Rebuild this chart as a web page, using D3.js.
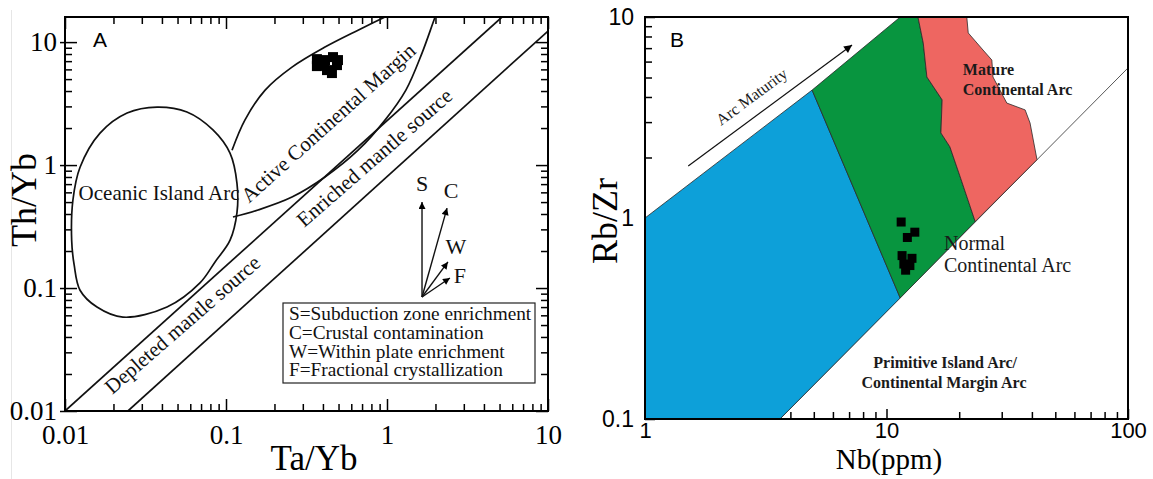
<!DOCTYPE html>
<html>
<head>
<meta charset="utf-8">
<script src="https://cdn.jsdelivr.net/npm/d3@7"></script>
<style>
body { margin: 0; background: #fff; }
svg { display: block; }
</style>
</head>
<body>
<svg id="chart" width="1153" height="479"></svg>
<script>
// ---------- panel A : Th/Yb vs Ta/Yb ----------
var aXTickValues = [0.01, 0.1, 1, 10];
var aXTickLabels = ["0.01", "0.1", "1", "10"];
var aYTickValues = [0.01, 0.1, 1, 10];
var aYTickLabels = ["0.01", "0.1", "1", "10"];

var aSamples = [[0.367, 7.27], [0.367, 6.38], [0.412, 7.14], [0.462, 7.55], [0.496, 7.14],
                [0.489, 6.5], [0.424, 5.92], [0.455, 5.6], [0.406, 6.5]];

var oceanicIslandArc = [[0.0110, 0.245], [0.0112, 0.52], [0.0124, 0.96], [0.0165, 1.82], [0.0243, 2.65],
                        [0.0373, 2.96], [0.0572, 2.70], [0.0830, 1.93], [0.1059, 1.25], [0.117, 0.71],
                        [0.117, 0.41], [0.106, 0.245], [0.0855, 0.163], [0.0689, 0.11], [0.0430, 0.070],
                        [0.0229, 0.058], [0.0158, 0.070], [0.0124, 0.096], [0.0114, 0.154]];

var acmUpper = [[0.109, 1.32], [0.131, 2.32], [0.175, 4.07], [0.257, 6.26], [0.412, 9.11],
                [0.661, 12.5], [0.972, 16.0], [1.2, 18.2]];
var acmLower = [[0.1105, 0.378], [0.158, 0.431], [0.257, 0.549], [0.412, 0.799], [0.661, 1.32],
                [0.972, 2.32], [1.31, 4.07], [1.65, 8.14], [1.99, 16.0], [2.13, 20]];

var mantleUpper = [[0.01, 0.01], [5.18, 16]];
var mantleLower = [[0.0246, 0.01], [10, 12.3]];

var vectorOrigin = [1.65, 0.0845];
var vectorNames = ["S", "C", "W", "F"];
var vectorTips = [[1.65, 0.50], [2.36, 0.447], [2.39, 0.163], [2.46, 0.1206]];

var legendLines = ["S=Subduction zone enrichment", "C=Crustal contamination",
                   "W=Within plate enrichment", "F=Fractional crystallization"];

var aFieldNames = ["Oceanic Island Arc", "Active Continental Margin", "Enriched mantle source", "Depleted mantle source"];
var aFieldAnchors = [[0.0384, 0.52], [0.462, 2.0], [0.892, 1.04], [0.0573, 0.0456]];

// ---------- panel B : Rb/Zr vs Nb ----------
var bXTickValues = [1, 10, 100];
var bXTickLabels = ["1", "10", "100"];
var bYTickValues = [0.1, 1, 10];
var bYTickLabels = ["0.1", "1", "10"];

var bSamples = [[11.5, 0.955], [12.2, 0.80], [13.1, 0.85], [11.6, 0.65], [12.75, 0.63],
                [11.8, 0.59], [12.5, 0.58], [12.0, 0.55]];

var primitiveField = [[1, 1], [4.92, 4.33], [11.4, 0.40], [3.62, 0.1], [1, 0.1]];
var normalTop = [[4.92, 4.33], [11.4, 10]];
var normalMatureBorder = [[13.5, 10], [14.2, 7.42], [14.7, 5.03], [17.0, 3.87], [16.8, 2.65],
                          [18.3, 2.26], [20.2, 1.60], [23.3, 0.96]];
var normalBottom = [[11.4, 0.40]];
var matureOuter = [[21.5, 10], [21.8, 8.33], [25.1, 6.85], [27.3, 6.11], [27.6, 5.03],
                   [31.5, 3.73], [37.5, 3.45], [39.3, 2.97], [42, 1.95]];
var arrayLine = [[3.62, 0.1], [100, 5.58]];
var maturityArrow = [[1.51, 1.815], [7.2, 7.26]];

var bFieldNames = ["Arc Maturity", "Mature", "Continental Arc", "Normal", "Continental Arc",
                   "Primitive Island Arc/", "Continental Margin Arc"];
var bFieldAnchors = [[2.85, 3.82], [20.7, 5.14], [20.7, 4.09], [17.3, 0.693], [17.3, 0.539],
                     [17.5, 0.179], [17.3, 0.1426]];

var serif = "'Liberation Serif', 'Times New Roman', serif";
var sans = "'Liberation Sans', Arial, sans-serif";

var svg = d3.select("#chart");

var defs = svg.append("defs");
defs.append("marker").attr("id", "headA")
    .attr("viewBox", "0 0 10 10").attr("refX", 10).attr("refY", 5)
    .attr("markerWidth", 9).attr("markerHeight", 7).attr("markerUnits", "userSpaceOnUse")
    .attr("orient", "auto")
    .append("path").attr("d", "M0,0L10,5L0,10z").attr("fill", "#000");
defs.append("marker").attr("id", "headB")
    .attr("viewBox", "0 0 10 10").attr("refX", 10).attr("refY", 5)
    .attr("markerWidth", 11).attr("markerHeight", 8).attr("markerUnits", "userSpaceOnUse")
    .attr("orient", "auto")
    .append("path").attr("d", "M0,0L10,5L0,10z").attr("fill", "#000");

// faint scan edge at the very left
svg.append("line").attr("x1", 11.5).attr("x2", 11.5).attr("y1", 10).attr("y2", 479)
    .attr("stroke", "#e6e6e6");

function isDecade(d) {
    var l = Math.log10(d);
    return Math.abs(l - Math.round(l)) < 1e-9;
}

function addAxis(g, axis, tr, family, size) {
    var a = g.append("g").attr("transform", tr).call(axis);
    a.select(".domain").remove();
    a.selectAll("line").attr("stroke", "#000").attr("stroke-width", 1.5);
    a.selectAll("text").attr("font-family", family).attr("font-size", size).attr("fill", "#000");
    return a;
}

drawPanelA();
drawPanelB();

function drawPanelA() {
    var m = {left: 65, right: 548, top: 17, bottom: 411};
    var x = d3.scaleLog().domain([0.01, 10]).range([m.left, m.right]);
    var y = d3.scaleLog().domain([0.01, 16]).range([m.bottom, m.top]);
    var g = svg.append("g");

    defs.append("clipPath").attr("id", "clipA").append("rect")
        .attr("x", m.left).attr("y", m.top).attr("width", m.right - m.left).attr("height", m.bottom - m.top);

    var minorX = x.ticks().filter(d => !isDecade(d));
    var minorY = y.ticks().filter(d => !isDecade(d));

    // bottom and top
    addAxis(g, d3.axisBottom(x).tickValues(aXTickValues).tickSizeInner(-12).tickSizeOuter(0)
        .tickPadding(14).tickFormat((d, i) => aXTickLabels[i]), "translate(0," + m.bottom + ")", serif, 27);
    addAxis(g, d3.axisBottom(x).tickValues(minorX).tickSize(-7).tickFormat(""), "translate(0," + m.bottom + ")", serif, 27);
    addAxis(g, d3.axisTop(x).tickValues(aXTickValues).tickSize(-12).tickFormat(""), "translate(0," + m.top + ")", serif, 27);
    addAxis(g, d3.axisTop(x).tickValues(minorX).tickSize(-7).tickFormat(""), "translate(0," + m.top + ")", serif, 27);
    // left and right
    addAxis(g, d3.axisLeft(y).tickValues(aYTickValues).tickSizeInner(-12).tickSizeOuter(0)
        .tickPadding(8).tickFormat((d, i) => aYTickLabels[i]), "translate(" + m.left + ",0)", serif, 27);
    addAxis(g, d3.axisLeft(y).tickValues(aYTickValues).tickSize(5).tickFormat(""), "translate(" + m.left + ",0)", serif, 27);
    addAxis(g, d3.axisLeft(y).tickValues(minorY).tickSize(-7).tickFormat(""), "translate(" + m.left + ",0)", serif, 27);
    addAxis(g, d3.axisRight(y).tickValues(aYTickValues).tickSize(-12).tickFormat(""), "translate(" + m.right + ",0)", serif, 27);
    addAxis(g, d3.axisRight(y).tickValues(minorY).tickSize(-7).tickFormat(""), "translate(" + m.right + ",0)", serif, 27);

    var plot = g.append("g").attr("clip-path", "url(#clipA)");
    var line = d3.line().x(d => x(d[0])).y(d => y(d[1]));

    plot.append("path").datum(oceanicIslandArc)
        .attr("d", line.curve(d3.curveCatmullRomClosed.alpha(0.5)))
        .attr("fill", "none").attr("stroke", "#111").attr("stroke-width", 1.7);
    line.curve(d3.curveCatmullRom.alpha(0.5));
    [acmUpper, acmLower].forEach(function (c) {
        plot.append("path").datum(c).attr("d", line)
            .attr("fill", "none").attr("stroke", "#111").attr("stroke-width", 1.7);
    });
    line.curve(d3.curveLinear);
    [mantleUpper, mantleLower].forEach(function (c) {
        plot.append("path").datum(c).attr("d", line)
            .attr("fill", "none").attr("stroke", "#111").attr("stroke-width", 1.7);
    });

    // field names
    var angles = [0, -42, -41, -41];
    g.selectAll(".fieldA").data(aFieldNames).enter().append("text")
        .attr("class", "fieldA")
        .attr("transform", (d, i) => "translate(" + x(aFieldAnchors[i][0]) + "," + y(aFieldAnchors[i][1]) + ") rotate(" + angles[i] + ")")
        .attr("text-anchor", "middle")
        .attr("font-family", serif).attr("font-size", 21).attr("fill", "#111")
        .text(d => d);

    // enrichment vectors
    var ox = x(vectorOrigin[0]), oy = y(vectorOrigin[1]);
    var offs = [[0, -11], [4, -10], [8, -8], [10, 5]];
    vectorTips.forEach(function (t, i) {
        g.append("line").attr("x1", ox).attr("y1", oy).attr("x2", x(t[0])).attr("y2", y(t[1]))
            .attr("stroke", "#111").attr("stroke-width", 1.4).attr("marker-end", "url(#headA)");
        g.append("text").attr("x", x(t[0]) + offs[i][0]).attr("y", y(t[1]) + offs[i][1])
            .attr("text-anchor", "middle").attr("font-family", serif).attr("font-size", 22)
            .attr("fill", "#111").text(vectorNames[i]);
    });

    // legend box
    var lg = g.append("g").attr("transform", "translate(283,303)");
    lg.append("rect").attr("width", 252).attr("height", 80)
        .attr("fill", "#fff").attr("stroke", "#222").attr("stroke-width", 1.2);
    lg.selectAll("text").data(legendLines).enter().append("text")
        .attr("x", 6).attr("y", (d, i) => 17 + i * 18.8)
        .attr("font-family", serif).attr("font-size", 19.3).attr("fill", "#111")
        .text(d => d);

    // samples
    g.selectAll(".sa").data(aSamples).enter().append("rect")
        .attr("x", d => x(d[0]) - 5).attr("y", d => y(d[1]) - 5)
        .attr("width", 10).attr("height", 10).attr("fill", "#000");

    g.append("rect").attr("x", m.left).attr("y", m.top)
        .attr("width", m.right - m.left).attr("height", m.bottom - m.top)
        .attr("fill", "none").attr("stroke", "#000").attr("stroke-width", 2);

    g.append("text").attr("x", 93).attr("y", 47).attr("font-family", sans).attr("font-size", 21).text("A");

    g.append("text").attr("transform", "translate(36,200) rotate(-90)").attr("text-anchor", "middle")
        .attr("font-family", serif).attr("font-size", 36).text("Th/Yb");
    g.append("text").attr("x", 314).attr("y", 470).attr("text-anchor", "middle")
        .attr("font-family", serif).attr("font-size", 35).text("Ta/Yb");
}

function drawPanelB() {
    var m = {left: 645, right: 1128, top: 17, bottom: 419};
    var x = d3.scaleLog().domain([1, 100]).range([m.left, m.right]);
    var y = d3.scaleLog().domain([0.1, 10]).range([m.bottom, m.top]);
    var g = svg.append("g");

    defs.append("clipPath").attr("id", "clipB").append("rect")
        .attr("x", m.left).attr("y", m.top).attr("width", m.right - m.left).attr("height", m.bottom - m.top);

    var minorX = x.ticks().filter(d => !isDecade(d));
    var minorY = y.ticks().filter(d => !isDecade(d));

    addAxis(g, d3.axisBottom(x).tickValues(bXTickValues).tickSizeInner(-10).tickSizeOuter(0)
        .tickPadding(3).tickFormat((d, i) => bXTickLabels[i]), "translate(0," + m.bottom + ")", sans, 22);
    addAxis(g, d3.axisBottom(x).tickValues(minorX).tickSize(-7).tickFormat(""), "translate(0," + m.bottom + ")", sans, 22);
    addAxis(g, d3.axisLeft(y).tickValues(bYTickValues).tickSizeInner(-10).tickSizeOuter(0)
        .tickPadding(11).tickFormat((d, i) => bYTickLabels[i]), "translate(" + m.left + ",0)", sans, 23);
    addAxis(g, d3.axisLeft(y).tickValues(minorY).tickSize(-7).tickFormat(""), "translate(" + m.left + ",0)", sans, 23);

    var plot = g.append("g").attr("clip-path", "url(#clipB)");
    var line = d3.line().x(d => x(d[0])).y(d => y(d[1]));

    plot.append("path").datum(arrayLine).attr("d", line)
        .attr("fill", "none").attr("stroke", "#444").attr("stroke-width", 0.9);

    var normalField = normalTop.concat(normalMatureBorder, normalBottom);
    var matureField = matureOuter.concat(normalMatureBorder.slice().reverse());
    var fields = [[primitiveField, "#0da0d9"], [normalField, "#08953f"], [matureField, "#ee6661"]];
    fields.forEach(function (f) {
        plot.append("path").datum(f[0]).attr("d", line.curve(d3.curveLinearClosed))
            .attr("fill", f[1]).attr("stroke", "#2a2a2a").attr("stroke-width", 0.8);
    });
    line.curve(d3.curveLinear);

    plot.append("path").datum(maturityArrow).attr("d", line)
        .attr("fill", "none").attr("stroke", "#111").attr("stroke-width", 1.2)
        .attr("marker-end", "url(#headB)");

    var styles = [
        {size: 16, weight: "normal", anchor: "middle", angle: -36.5},
        {size: 16, weight: "bold", anchor: "start", angle: 0},
        {size: 16, weight: "bold", anchor: "start", angle: 0},
        {size: 20, weight: "normal", anchor: "start", angle: 0},
        {size: 20, weight: "normal", anchor: "start", angle: 0},
        {size: 16, weight: "bold", anchor: "middle", angle: 0},
        {size: 16, weight: "bold", anchor: "middle", angle: 0}
    ];
    g.selectAll(".fieldB").data(bFieldNames).enter().append("text")
        .attr("class", "fieldB")
        .attr("transform", (d, i) => "translate(" + x(bFieldAnchors[i][0]) + "," + y(bFieldAnchors[i][1]) + ") rotate(" + styles[i].angle + ")")
        .attr("text-anchor", (d, i) => styles[i].anchor)
        .attr("font-weight", (d, i) => styles[i].weight)
        .attr("font-size", (d, i) => styles[i].size)
        .attr("font-family", serif).attr("fill", "#1a1a1a")
        .text(d => d);

    g.selectAll(".sb").data(bSamples).enter().append("rect")
        .attr("x", d => x(d[0]) - 4.5).attr("y", d => y(d[1]) - 4.5)
        .attr("width", 9).attr("height", 9).attr("fill", "#000");

    g.append("rect").attr("x", m.left).attr("y", m.top)
        .attr("width", m.right - m.left).attr("height", m.bottom - m.top)
        .attr("fill", "none").attr("stroke", "#000").attr("stroke-width", 2);

    g.append("text").attr("x", 670).attr("y", 47).attr("font-family", sans).attr("font-size", 21).text("B");

    g.append("text").attr("transform", "translate(617,221) rotate(-90)").attr("text-anchor", "middle")
        .attr("font-family", serif).attr("font-size", 36).text("Rb/Zr");
    g.append("text").attr("x", 889).attr("y", 469).attr("text-anchor", "middle")
        .attr("font-family", serif).attr("font-size", 29).text("Nb(ppm)");
}
</script>
</body>
</html>
